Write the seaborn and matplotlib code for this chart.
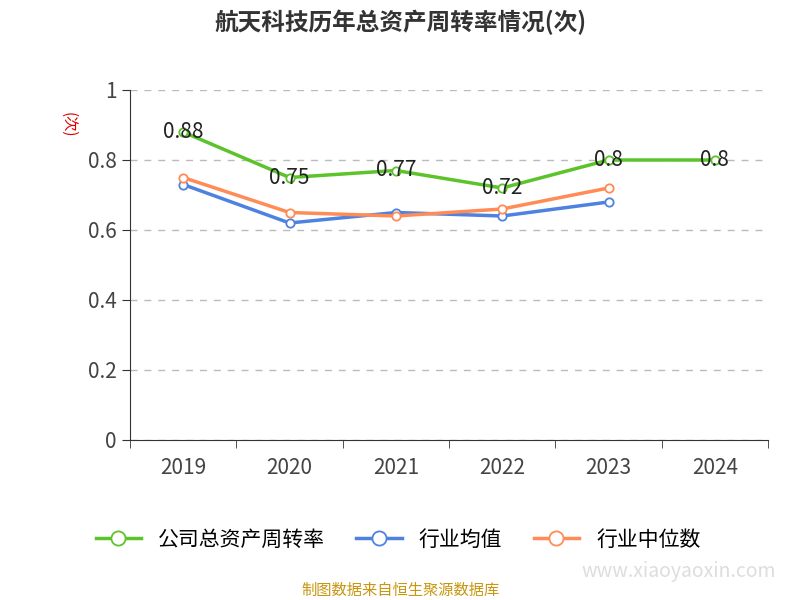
import matplotlib
matplotlib.use("Agg")
import matplotlib.pyplot as plt
from matplotlib import font_manager as fm
import seaborn as sns
import pandas as pd

years = ["2019", "2020", "2021", "2022", "2023", "2024"]
company = [0.88, 0.75, 0.77, 0.72, 0.80, 0.80]
ind_mean = [0.73, 0.62, 0.65, 0.64, 0.68]
ind_median = [0.75, 0.65, 0.64, 0.66, 0.72]
labels = ["0.88", "0.75", "0.77", "0.72", "0.8", "0.8"]

cjk = sorted({f.name for f in fm.fontManager.ttflist if "CJK" in f.name and "Sans" in f.name})
pref = [n for n in ["Noto Sans CJK SC", "Noto Sans CJK JP", "Noto Sans CJK TC", "Noto Sans CJK KR"] if n in cjk]
fam = pref[0] if pref else (cjk[0] if cjk else "DejaVu Sans")
plt.rcParams["font.family"] = "sans-serif"
plt.rcParams["font.sans-serif"] = [fam, "DejaVu Sans"]
plt.rcParams["axes.unicode_minus"] = False

fig = plt.figure(figsize=(8, 6), dpi=100)
ax = fig.add_axes([130/800, 1-440/600, 638/800, 350/600])

series = [("公司总资产周转率", company, "#5cc42a"),
          ("行业均值", ind_mean, "#4f82e0"),
          ("行业中位数", ind_median, "#ff8c57")]
for name, vals, c in series:
    df = pd.DataFrame({"x": list(range(len(vals))), "y": vals})
    sns.lineplot(data=df, x="x", y="y", ax=ax, color=c, linewidth=2.5, marker="o",
                 markersize=6, markerfacecolor="white", markeredgecolor=c,
                 markeredgewidth=1.3, label=name)
for i, (v, t) in enumerate(zip(company, labels)):
    ax.text(i, v, t, ha="center", va="center", fontsize=15, color="#222222")

ax.set_xlim(-0.5, 5.5)
ax.set_ylim(0, 1)
ax.set_yticks([0, 0.2, 0.4, 0.6, 0.8, 1])
ax.set_yticklabels(["0", "0.2", "0.4", "0.6", "0.8", "1"])
ax.set_xticks(range(6))
ax.set_xticklabels(years)
ax.set_xticks([i - 0.5 for i in range(7)], minor=True)
ax.tick_params(axis="x", which="major", length=0, labelsize=15, colors="#444444", pad=12)
ax.tick_params(axis="x", which="minor", length=6, color="#333333")
ax.tick_params(axis="y", length=6, labelsize=15, colors="#444444", color="#333333")
ax.set_xlabel(""); ax.set_ylabel("")
for s in ["top", "right"]:
    ax.spines[s].set_visible(False)
ax.spines["left"].set_color("#333333"); ax.spines["bottom"].set_color("#333333")
ax.grid(axis="y", linestyle=(0, (5, 5)), color="#bbbbbb", linewidth=1)
ax.set_axisbelow(True)

fig.text(0.5, 1-22/600, "航天科技历年总资产周转率情况(次)", ha="center", va="center",
         fontsize=17, fontweight="bold", color="#333333")
fig.text(68/800, 1-125/600, "(次)", rotation=-90, ha="center", va="center", fontsize=11, color="#dd0000")
ax.legend(loc="upper center", bbox_to_anchor=(0.42, -0.2), ncol=3, frameon=False,
          fontsize=15, handlelength=2.2, columnspacing=1.5, markerscale=1.7)
fig.text(0.5, 1-590/600, "制图数据来自恒生聚源数据库", ha="center", va="center", fontsize=11, color="#c8960f")
fig.text(0.97, 1-572/600, "www.xiaoyaoxin.com", ha="right", va="center", fontsize=14, color="#dddddd")
fig.savefig("out.png", dpi=100)
